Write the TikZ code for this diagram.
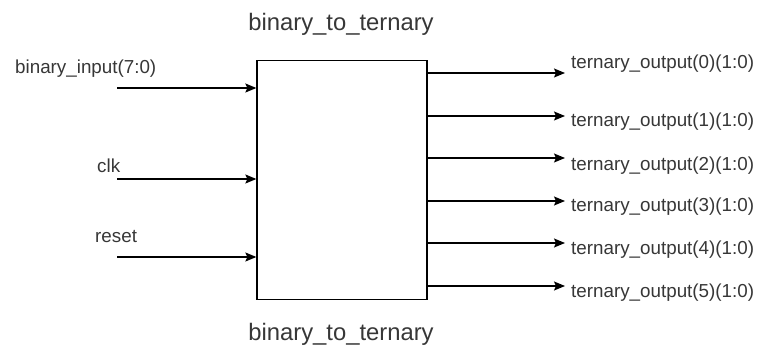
\documentclass[tikz,border=0pt]{standalone}
\usepackage{fontspec}
\setmainfont{Liberation Sans}
\usetikzlibrary{arrows.meta}
\definecolor{txt}{RGB}{55,55,55}
\tikzset{
  lbl/.style={inner sep=0pt, text=txt, font=\fontsize{18.8}{20}\selectfont},
  ttl/.style={inner sep=0pt, text=txt, font=\fontsize{23.8}{26}\selectfont},
  blk/.style={draw=black, line width=1.3pt, inner sep=0pt, fill=white},
  sig/.style={draw=black, line width=1.3pt, -{Stealth[length=11pt,width=9pt,inset=2pt]}}
}
\begin{document}
\begin{tikzpicture}[x=1pt,y=-1pt]
\useasboundingbox (0,0) rectangle (765,347);
\fill[white] (0,0) rectangle (765,347);
\node[blk, minimum width=170pt, minimum height=239pt] (box) at (342,179.75) {};
\node[ttl] (ttop) at (341,24) {binary\_to\_ternary};
\node[ttl] (tbot) at (341,334) {binary\_to\_ternary};
% inputs
\node[lbl, anchor=west] (lin) at (15,69) {binary\_input(7:0)};
\node[lbl, anchor=west] (lclk) at (97,166) {clk};
\node[lbl, anchor=west] (lrst) at (95,237) {reset};
\coordinate (iin) at (117,88);
\coordinate (iclk) at (117,179);
\coordinate (irst) at (117,257);
\draw[sig] (iin) -- (iin -| box.west);
\draw[sig] (iclk) -- (iclk -| box.west);
\draw[sig] (irst) -- (irst -| box.west);
% outputs
\foreach \i/\ya/\yl in {0/73/64, 1/116/122, 2/158/166, 3/201/207, 4/243/250, 5/286/293}{
  \coordinate (o\i) at (565,\ya);
  \node[lbl, anchor=west] (l\i) at (571,\yl) {ternary\_output(\i)(1:0)};
  \draw[sig] (o\i -| box.east) -- (o\i);
}
\end{tikzpicture}
\end{document}
